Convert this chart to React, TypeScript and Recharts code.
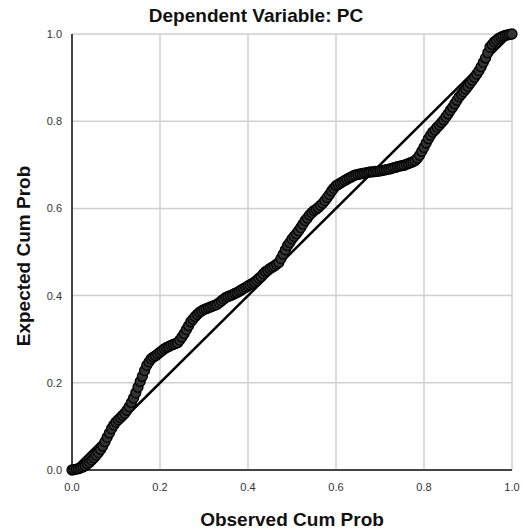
import { ScatterChart, Scatter, XAxis, YAxis, CartesianGrid, ReferenceLine, Label } from "recharts";

// cumulative probabilities
const observed = [
  0.0, 0.01, 0.02, 0.03, 0.04, 0.05, 0.06, 0.07, 0.08, 0.09,
  0.1, 0.11, 0.12, 0.13, 0.14, 0.15, 0.16, 0.17, 0.18, 0.19,
  0.2, 0.21, 0.22, 0.23, 0.24, 0.25, 0.26, 0.27, 0.28, 0.29,
  0.3, 0.31, 0.32, 0.33, 0.34, 0.35, 0.36, 0.37, 0.38, 0.39,
  0.4, 0.41, 0.42, 0.43, 0.44, 0.45, 0.46, 0.47, 0.48, 0.49,
  0.5, 0.51, 0.52, 0.53, 0.54, 0.55, 0.56, 0.57, 0.58, 0.59,
  0.6, 0.61, 0.62, 0.63, 0.64, 0.65, 0.66, 0.67, 0.68, 0.69,
  0.7, 0.71, 0.72, 0.73, 0.74, 0.75, 0.76, 0.77, 0.78, 0.79,
  0.8, 0.81, 0.82, 0.83, 0.84, 0.85, 0.86, 0.87, 0.88, 0.89,
  0.9, 0.91, 0.92, 0.93, 0.94, 0.95, 0.96, 0.97, 0.98, 0.99, 1.0,
];

const expected = [
  0.0, 0.002, 0.005, 0.01, 0.018, 0.028, 0.04, 0.055, 0.075, 0.095,
  0.11, 0.12, 0.13, 0.145, 0.165, 0.19, 0.215, 0.24, 0.255, 0.262,
  0.27, 0.278, 0.283, 0.288, 0.292, 0.305, 0.322, 0.34, 0.352, 0.362,
  0.368, 0.372, 0.376, 0.38, 0.388, 0.396, 0.4, 0.405, 0.41, 0.416,
  0.422, 0.428, 0.435, 0.444, 0.455, 0.462, 0.468, 0.476, 0.495, 0.515,
  0.53, 0.542, 0.556, 0.572, 0.585, 0.595, 0.602, 0.612, 0.625, 0.64,
  0.652, 0.658, 0.664, 0.67, 0.675, 0.678, 0.68, 0.682, 0.684, 0.685,
  0.686, 0.688, 0.69, 0.693, 0.696, 0.698, 0.701, 0.705, 0.71, 0.722,
  0.74, 0.76, 0.775, 0.786, 0.797, 0.81, 0.825, 0.84, 0.856, 0.868,
  0.88, 0.894, 0.908, 0.925, 0.945, 0.97, 0.982, 0.99, 0.995, 0.998, 1.0,
];

const observedB = [
  0.005, 0.015, 0.025, 0.035, 0.045, 0.055, 0.065, 0.075, 0.085, 0.095,
  0.105, 0.115, 0.125, 0.135, 0.145, 0.155, 0.165, 0.175, 0.185, 0.195,
  0.205, 0.215, 0.225, 0.235, 0.245, 0.255, 0.265, 0.275, 0.285, 0.295,
  0.305, 0.315, 0.325, 0.335, 0.345, 0.355, 0.365, 0.375, 0.385, 0.395,
  0.405, 0.415, 0.425, 0.435, 0.445, 0.455, 0.465, 0.475, 0.485, 0.495,
  0.505, 0.515, 0.525, 0.535, 0.545, 0.555, 0.565, 0.575, 0.585, 0.595,
  0.605, 0.615, 0.625, 0.635, 0.645, 0.655, 0.665, 0.675, 0.685, 0.695,
  0.705, 0.715, 0.725, 0.735, 0.745, 0.755, 0.765, 0.775, 0.785, 0.795,
  0.805, 0.815, 0.825, 0.835, 0.845, 0.855, 0.865, 0.875, 0.885, 0.895,
  0.905, 0.915, 0.925, 0.935, 0.945, 0.955, 0.965, 0.975, 0.985, 0.995,
];

const expectedB = [
  0.001, 0.003, 0.007, 0.014, 0.023, 0.034, 0.047, 0.065, 0.085, 0.103,
  0.115, 0.125, 0.137, 0.155, 0.177, 0.203, 0.228, 0.248, 0.259, 0.266,
  0.274, 0.281, 0.286, 0.29, 0.298, 0.313, 0.331, 0.346, 0.357, 0.365,
  0.37, 0.374, 0.378, 0.384, 0.392, 0.398, 0.402, 0.407, 0.413, 0.419,
  0.425, 0.431, 0.44, 0.45, 0.458, 0.465, 0.472, 0.485, 0.505, 0.522,
  0.536, 0.549, 0.564, 0.578, 0.59, 0.598, 0.607, 0.618, 0.632, 0.646,
  0.655, 0.661, 0.667, 0.672, 0.677, 0.679, 0.681, 0.683, 0.684, 0.685,
  0.687, 0.689, 0.691, 0.694, 0.697, 0.699, 0.703, 0.707, 0.715, 0.731,
  0.75, 0.768, 0.78, 0.791, 0.803, 0.817, 0.832, 0.848, 0.862, 0.874,
  0.887, 0.901, 0.916, 0.935, 0.957, 0.976, 0.986, 0.993, 0.997, 0.999,
];

const ticks = [0, 0.2, 0.4, 0.6, 0.8, 1.0];

const FONT = '"Liberation Sans", Arial, sans-serif';

const points = [
  ...observed.map((o, i) => ({ obs: o, exp: expected[i] })),
  ...observedB.map((o, i) => ({ obs: o, exp: expectedB[i] })),
].sort((a, b) => a.obs - b.obs);

export default function App() {
  return (
    <div style={{ position: "absolute", left: 0, top: 0, width: 524, height: 532, background: "#fff" }}>
      <div
        style={{
          position: "absolute",
          left: 0,
          top: 5,
          width: 512,
          textAlign: "center",
          fontFamily: FONT,
          fontWeight: "bold",
          fontSize: 19,
          color: "#111",
        }}
      >
        Dependent Variable: PC
      </div>
      <ScatterChart width={524} height={532} margin={{ top: 34, right: 12, bottom: 0, left: 0 }}>
        <CartesianGrid stroke="#cfcfcf" strokeWidth={1.5} ticks={ticks} />
        <XAxis
          type="number"
          dataKey="obs"
          domain={[0, 1]}
          ticks={ticks}
          tickFormatter={(v) => v.toFixed(1)}
          height={62}
          tickLine={false}
          tickMargin={7}
          axisLine={{ stroke: "#444", strokeWidth: 2 }}
          tick={{ fill: "#333", fontSize: 11, fontFamily: FONT }}
        >
          <Label
            value="Observed Cum Prob"
            position="insideBottom"
            offset={6}
            style={{ fontFamily: FONT, fontWeight: "bold", fontSize: 19, fill: "#111" }}
          />
        </XAxis>
        <YAxis
          type="number"
          dataKey="exp"
          domain={[0, 1]}
          ticks={ticks}
          tickFormatter={(v) => v.toFixed(1)}
          width={72}
          tickLine={false}
          tickMargin={4}
          axisLine={{ stroke: "#444", strokeWidth: 2 }}
          tick={{ fill: "#333", fontSize: 11, fontFamily: FONT }}
        >
          <Label
            content={({ viewBox }: any) => {
              const cy = viewBox.y + viewBox.height / 2 + 4;
              return (
                <text
                  x={30}
                  y={cy}
                  transform={`rotate(-90, 30, ${cy})`}
                  textAnchor="middle"
                  style={{ fontFamily: FONT, fontWeight: "bold", fontSize: 19, fill: "#111" }}
                >
                  Expected Cum Prob
                </text>
              );
            }}
          />
        </YAxis>
        <ReferenceLine
          segment={[{ x: 0, y: 0 }, { x: 1, y: 1 }]}
          stroke="#000"
          strokeWidth={2.5}
          ifOverflow="visible"
        />
        <Scatter
          data={points}
          isAnimationActive={false}
          shape={(p: any) => (
            <circle cx={p.cx} cy={p.cy} r={5} fill="#333" stroke="#000" strokeWidth={1.3} />
          )}
        />
      </ScatterChart>
    </div>
  );
}
